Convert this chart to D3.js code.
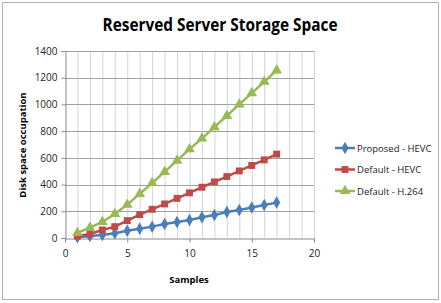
<!DOCTYPE html>
<html lang="en">
<head>
<meta charset="utf-8">
<script src="https://cdn.jsdelivr.net/npm/d3@7"></script>
<style>
  body { margin: 0; background: #fff; }
  text { font-family: "Open Sans", "DejaVu Sans", sans-serif; }
</style>
</head>
<body>
<script>
// data
let samples = [1, 2, 3, 4, 5, 6, 7, 8, 9, 10, 11, 12, 13, 14, 15, 16, 17];
let proposedHevc = [5, 15, 22, 35, 55, 70, 85, 105, 120, 135, 155, 172, 195, 210, 228, 247, 265];
let defaultHevc = [15, 30, 60, 85, 130, 175, 215, 255, 297, 338, 380, 420, 460, 502, 543, 585, 628];
let defaultH264 = [38, 78, 120, 180, 250, 330, 412, 495, 580, 665, 745, 830, 915, 1000, 1085, 1170, 1255];
let seriesNames = ["Proposed - HEVC", "Default - HEVC", "Default - H.264"];
let xTicks = [0, 5, 10, 15, 20];
let yTicks = [0, 200, 400, 600, 800, 1000, 1200, 1400];

let w = 441, h = 303;
let colors = ["#4a7ebb", "#be4b48", "#98b954"];
let shapes = [d3.symbolDiamond, d3.symbolSquare, d3.symbolTriangle];
let sizes = [45, 48, 50];

let svg = d3.select("body").append("svg")
    .attr("width", w)
    .attr("height", h);

// outer frame
svg.append("rect")
    .attr("x", 2.5).attr("y", 2.5)
    .attr("width", 436).attr("height", 297)
    .attr("fill", "#fff")
    .attr("stroke", "#b0b0b0");

let x = d3.scaleLinear().domain([0, 20]).range([65, 314]);
let y = d3.scaleLinear().domain([0, 1400]).range([238, 51]);

// vertical grid (every sample)
svg.append("g").selectAll("line")
    .data(d3.range(1, 21))
    .join("line")
    .attr("x1", d => x(d) + 0.5).attr("x2", d => x(d) + 0.5)
    .attr("y1", y(1400)).attr("y2", y(0))
    .attr("stroke", "#d4d4d4");

// horizontal grid
svg.append("g").selectAll("line")
    .data(yTicks.slice(1))
    .join("line")
    .attr("x1", x(0)).attr("x2", x(20))
    .attr("y1", d => Math.round(y(d)) + 0.5).attr("y2", d => Math.round(y(d)) + 0.5)
    .attr("stroke", "#a0a0a0");

// axes
let xAxis = svg.append("g")
    .attr("transform", "translate(0," + (Math.round(y(0)) + 0.5) + ")")
    .call(d3.axisBottom(x).tickValues(xTicks).tickSize(4).tickPadding(7));
let yAxis = svg.append("g")
    .attr("transform", "translate(" + (Math.round(x(0)) + 0.5) + ",0)")
    .call(d3.axisLeft(y).tickValues(yTicks).tickFormat(d3.format("d")).tickSize(4).tickPadding(4));
[xAxis, yAxis].forEach(function (a) {
    a.select(".domain").attr("stroke", "#888");
    a.selectAll(".tick line").attr("stroke", "#888");
    a.selectAll("text").attr("font-size", 10).attr("fill", "#222")
        .style("font-family", "'Open Sans', sans-serif");
});

// series
let allSeries = [proposedHevc, defaultHevc, defaultH264];
let line = d3.line()
    .x((d, i) => x(samples[i]))
    .y(d => y(d));

allSeries.forEach(function (vals, k) {
    svg.append("path")
        .datum(vals)
        .attr("d", line)
        .attr("fill", "none")
        .attr("stroke", colors[k])
        .attr("stroke-width", 2.5);
    svg.append("g").selectAll("path")
        .data(vals)
        .join("path")
        .attr("transform", (d, i) => "translate(" + x(samples[i]) + "," + y(d) + ")")
        .attr("d", d3.symbol().type(shapes[k]).size(sizes[k]))
        .attr("fill", colors[k]);
});

// legend
let legend = svg.append("g").selectAll("g")
    .data(seriesNames)
    .join("g")
    .attr("transform", (d, i) => "translate(335," + (148 + i * 21.5) + ")");
legend.append("line")
    .attr("x1", 0).attr("x2", 20)
    .attr("stroke", (d, i) => colors[i])
    .attr("stroke-width", 2.5);
legend.append("path")
    .attr("transform", "translate(10,0)")
    .attr("d", (d, i) => d3.symbol().type(shapes[i]).size(sizes[i])())
    .attr("fill", (d, i) => colors[i]);
legend.append("text")
    .attr("x", 22).attr("y", 3.5)
    .attr("font-size", 9.5)
    .attr("fill", "#222")
    .text(d => d);

// title and axis labels
svg.append("text")
    .attr("x", 220).attr("y", 31)
    .attr("text-anchor", "middle")
    .attr("font-size", 18)
    .attr("font-weight", "bold")
    .attr("textLength", 235)
    .attr("lengthAdjust", "spacingAndGlyphs")
    .text("Reserved Server Storage Space");

svg.append("text")
    .attr("transform", "translate(26,145) rotate(-90)")
    .attr("text-anchor", "middle")
    .attr("font-size", 9.5)
    .attr("font-weight", "bold")
    .text("Disk space occupation");

svg.append("text")
    .attr("x", 189).attr("y", 283)
    .attr("text-anchor", "middle")
    .attr("font-size", 9.5)
    .attr("font-weight", "bold")
    .text("Samples");
</script>
</body>
</html>
